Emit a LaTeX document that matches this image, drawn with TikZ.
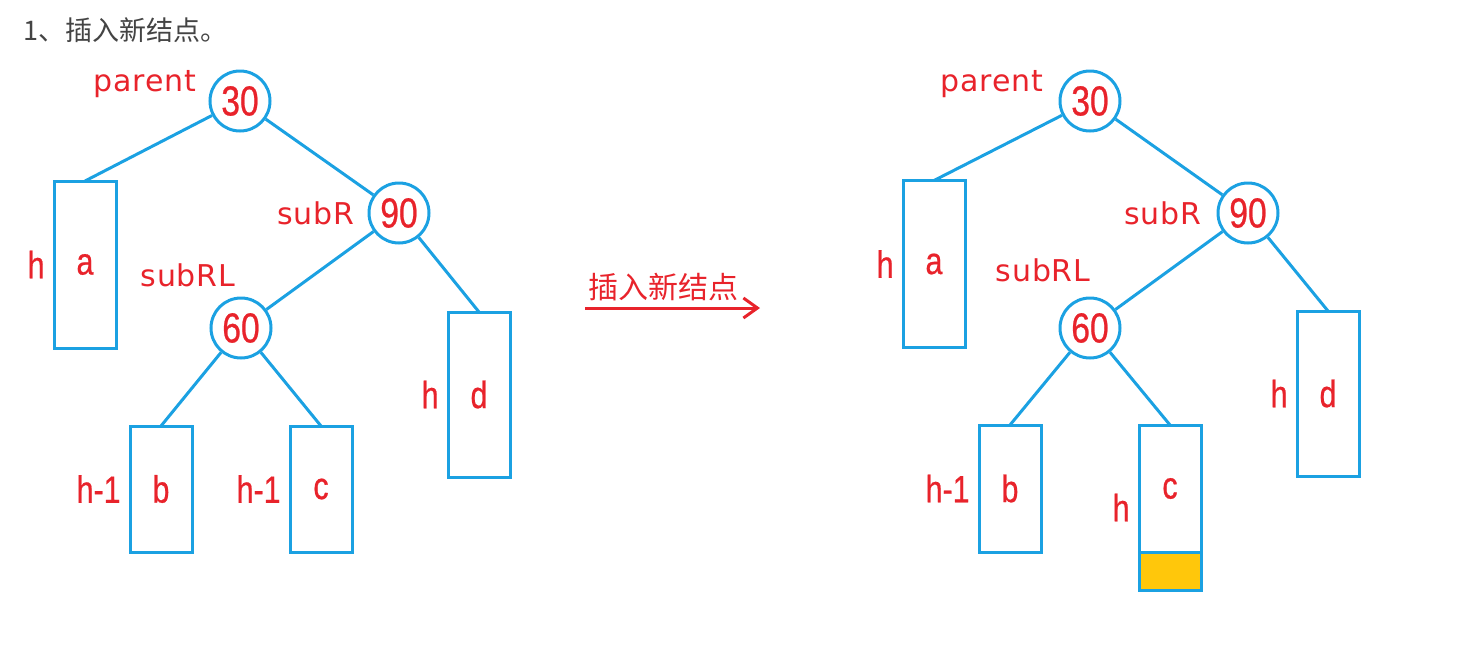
\documentclass[tikz,border=0pt]{standalone}
\usepackage{fontspec}
\setmainfont{Liberation Sans}
\newfontfamily\valfont[FakeStretch=0.8,FakeBold=0.6]{Liberation Sans}
\newfontfamily\tagfont[LetterSpace=3]{DejaVu Sans}
\newfontfamily\cjk{Noto Sans CJK SC}
\usetikzlibrary{arrows.meta,positioning,calc}
\definecolor{treeblue}{HTML}{1BA1E2}
\definecolor{treered}{HTML}{E8232B}
\definecolor{newyellow}{HTML}{FFC70B}
\definecolor{titlegray}{HTML}{444444}
\tikzset{
  avl/key/.style={draw=treeblue, line width=1.5pt, circle, minimum size=30pt, inner sep=0pt, text=treered, font=\valfont\fontsize{21}{21}\selectfont},
  avl/sub/.style={draw=treeblue, line width=1.5pt, minimum width=31pt, inner sep=0pt, outer sep=0pt, text=treered, font=\valfont\fontsize{19}{19}\selectfont},
  avl/height/.style={text=treered, inner sep=0pt, font=\valfont\fontsize{19}{19}\selectfont},
  avl/tag/.style={text=treered, inner sep=0pt, font=\tagfont\fontsize{15}{15}\selectfont},
  avl/newnode/.style={draw=treeblue, line width=1.5pt, fill=newyellow, minimum width=31pt, minimum height=19pt, inner sep=0pt, outer sep=0pt},
  avl/edge/.style={draw=treeblue, line width=1.5pt},
  insarrow/.style={draw=treered, line width=1.5pt, -{Straight Barb[length=7pt,width=10pt]}}
}

\begin{document}
\begin{tikzpicture}[x=0.5pt, y=-0.5pt]
  \useasboundingbox (0,0) rectangle (1469,659);
  \node[anchor=west, text=titlegray, font=\cjk\fontsize{13.5}{13.5}\selectfont] (title) at (16,30) {1、插入新结点。};

  % before insertion
  \node[avl/key] (n30) at (240,101) {30};
  \node[avl/tag] (parent) at (145,84) {parent};
  \node[avl/sub, minimum height=83.5pt] (a) at (85,264.5) {a};
  \node[avl/height, left=4.5pt of a] (ha) {h};
  \node[avl/key] (n90) at (399,213) {90};
  \node[avl/tag] (subR) at (316,213) {subR};
  \node[avl/sub, minimum height=82.5pt] (d) at (479,394.5) {d};
  \node[avl/height, left=4.5pt of d] (hd) {h};
  \node[avl/key] (n60) at (241,328) {60};
  \node[avl/tag] (subRL) at (188,275) {subRL};
  \node[avl/sub, minimum height=63pt] (b) at (161,489) {b};
  \node[avl/height, left=4.5pt of b] (hb) {h-1};
  \node[avl/sub, minimum height=63pt] (c) at (321,489) {c};
  \node[avl/height, left=4.5pt of c] (hc) {h-1};
  \draw[avl/edge] (n30) -- (a.north);
  \draw[avl/edge] (n30) -- (n90);
  \draw[avl/edge] (n90) -- (d.north);
  \draw[avl/edge] (n90) -- (n60);
  \draw[avl/edge] (n60) -- (b.north);
  \draw[avl/edge] (n60) -- (c.north);

  % insert arrow
  \coordinate (insfrom) at (585,308);
  \coordinate (insto) at (760,308);
  \draw[insarrow] (insfrom) -- (insto);
  \node[text=treered, font=\cjk\fontsize{15}{15}\selectfont] (inslabel) at (663,287) {插入新结点};

  % after insertion
  \node[avl/key] (m30) at (1090,101) {30};
  \node[avl/tag] (parent2) at (992,84) {parent};
  \node[avl/sub, minimum height=83.5pt] (a2) at (934,264) {a};
  \node[avl/height, left=4.5pt of a2] (ha2) {h};
  \node[avl/key] (m90) at (1248,213) {90};
  \node[avl/tag] (subR2) at (1163,213) {subR};
  \node[avl/sub, minimum height=82.5pt] (d2) at (1328,393.5) {d};
  \node[avl/height, left=4.5pt of d2] (hd2) {h};
  \node[avl/key] (m60) at (1090,328) {60};
  \node[avl/tag] (subRL2) at (1043,270) {subRL};
  \node[avl/sub, minimum height=63.5pt] (b2) at (1010,488.5) {b};
  \node[avl/height, left=4.5pt of b2] (hb2) {h-1};
  \node[avl/sub, minimum height=63.5pt] (c2) at (1170,488.5) {c};
  \node[avl/newnode, below=0pt of c2] (new) {};
  \node[avl/height, anchor=east, xshift=-4.5pt] (hc2) at ($(c2.north west)!0.5!(new.south west)$) {h};
  \draw[avl/edge] (m30) -- (a2.north);
  \draw[avl/edge] (m30) -- (m90);
  \draw[avl/edge] (m90) -- (d2.north);
  \draw[avl/edge] (m90) -- (m60);
  \draw[avl/edge] (m60) -- (b2.north);
  \draw[avl/edge] (m60) -- (c2.north);
\end{tikzpicture}
\end{document}
